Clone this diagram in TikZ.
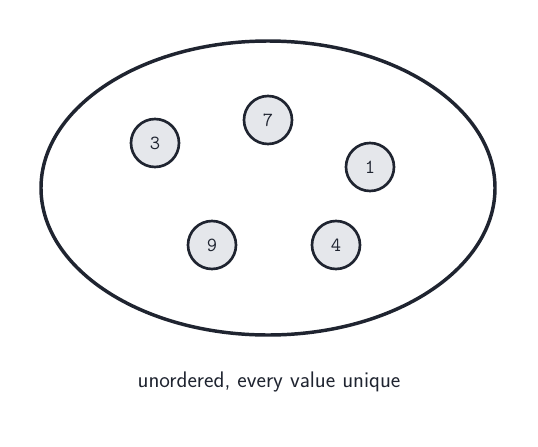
\documentclass[tikz,border=0pt]{standalone}
\definecolor{ink}{HTML}{1F2430}
\definecolor{nodefill}{HTML}{E5E7EB}
\begin{document}
\begin{tikzpicture}[x=0.75pt,y=-0.75pt,
  setbox/.style={draw=ink,line width=2.6pt},
  elem/.style={circle,draw=ink,fill=nodefill,line width=2pt,minimum size=36pt,inner sep=0pt,font=\ttfamily\fontsize{15}{18}\selectfont,text=ink},
  caption/.style={font=\sffamily\fontsize{16.9}{20}\selectfont,text=ink}]
\useasboundingbox (0,0) rectangle (538,446);
\draw[setbox] (268,188) ellipse [x radius=227, y radius=147];
\node[elem] (n3) at (155,143) {3};
\node[elem] (n7) at (268,120) {7};
\node[elem] (n1) at (370,167) {1};
\node[elem] (n9) at (212,245) {9};
\node[elem] (n4) at (336,245) {4};
\node[caption] (cap) at (269,382) {unordered, every value unique};
\end{tikzpicture}
\end{document}
